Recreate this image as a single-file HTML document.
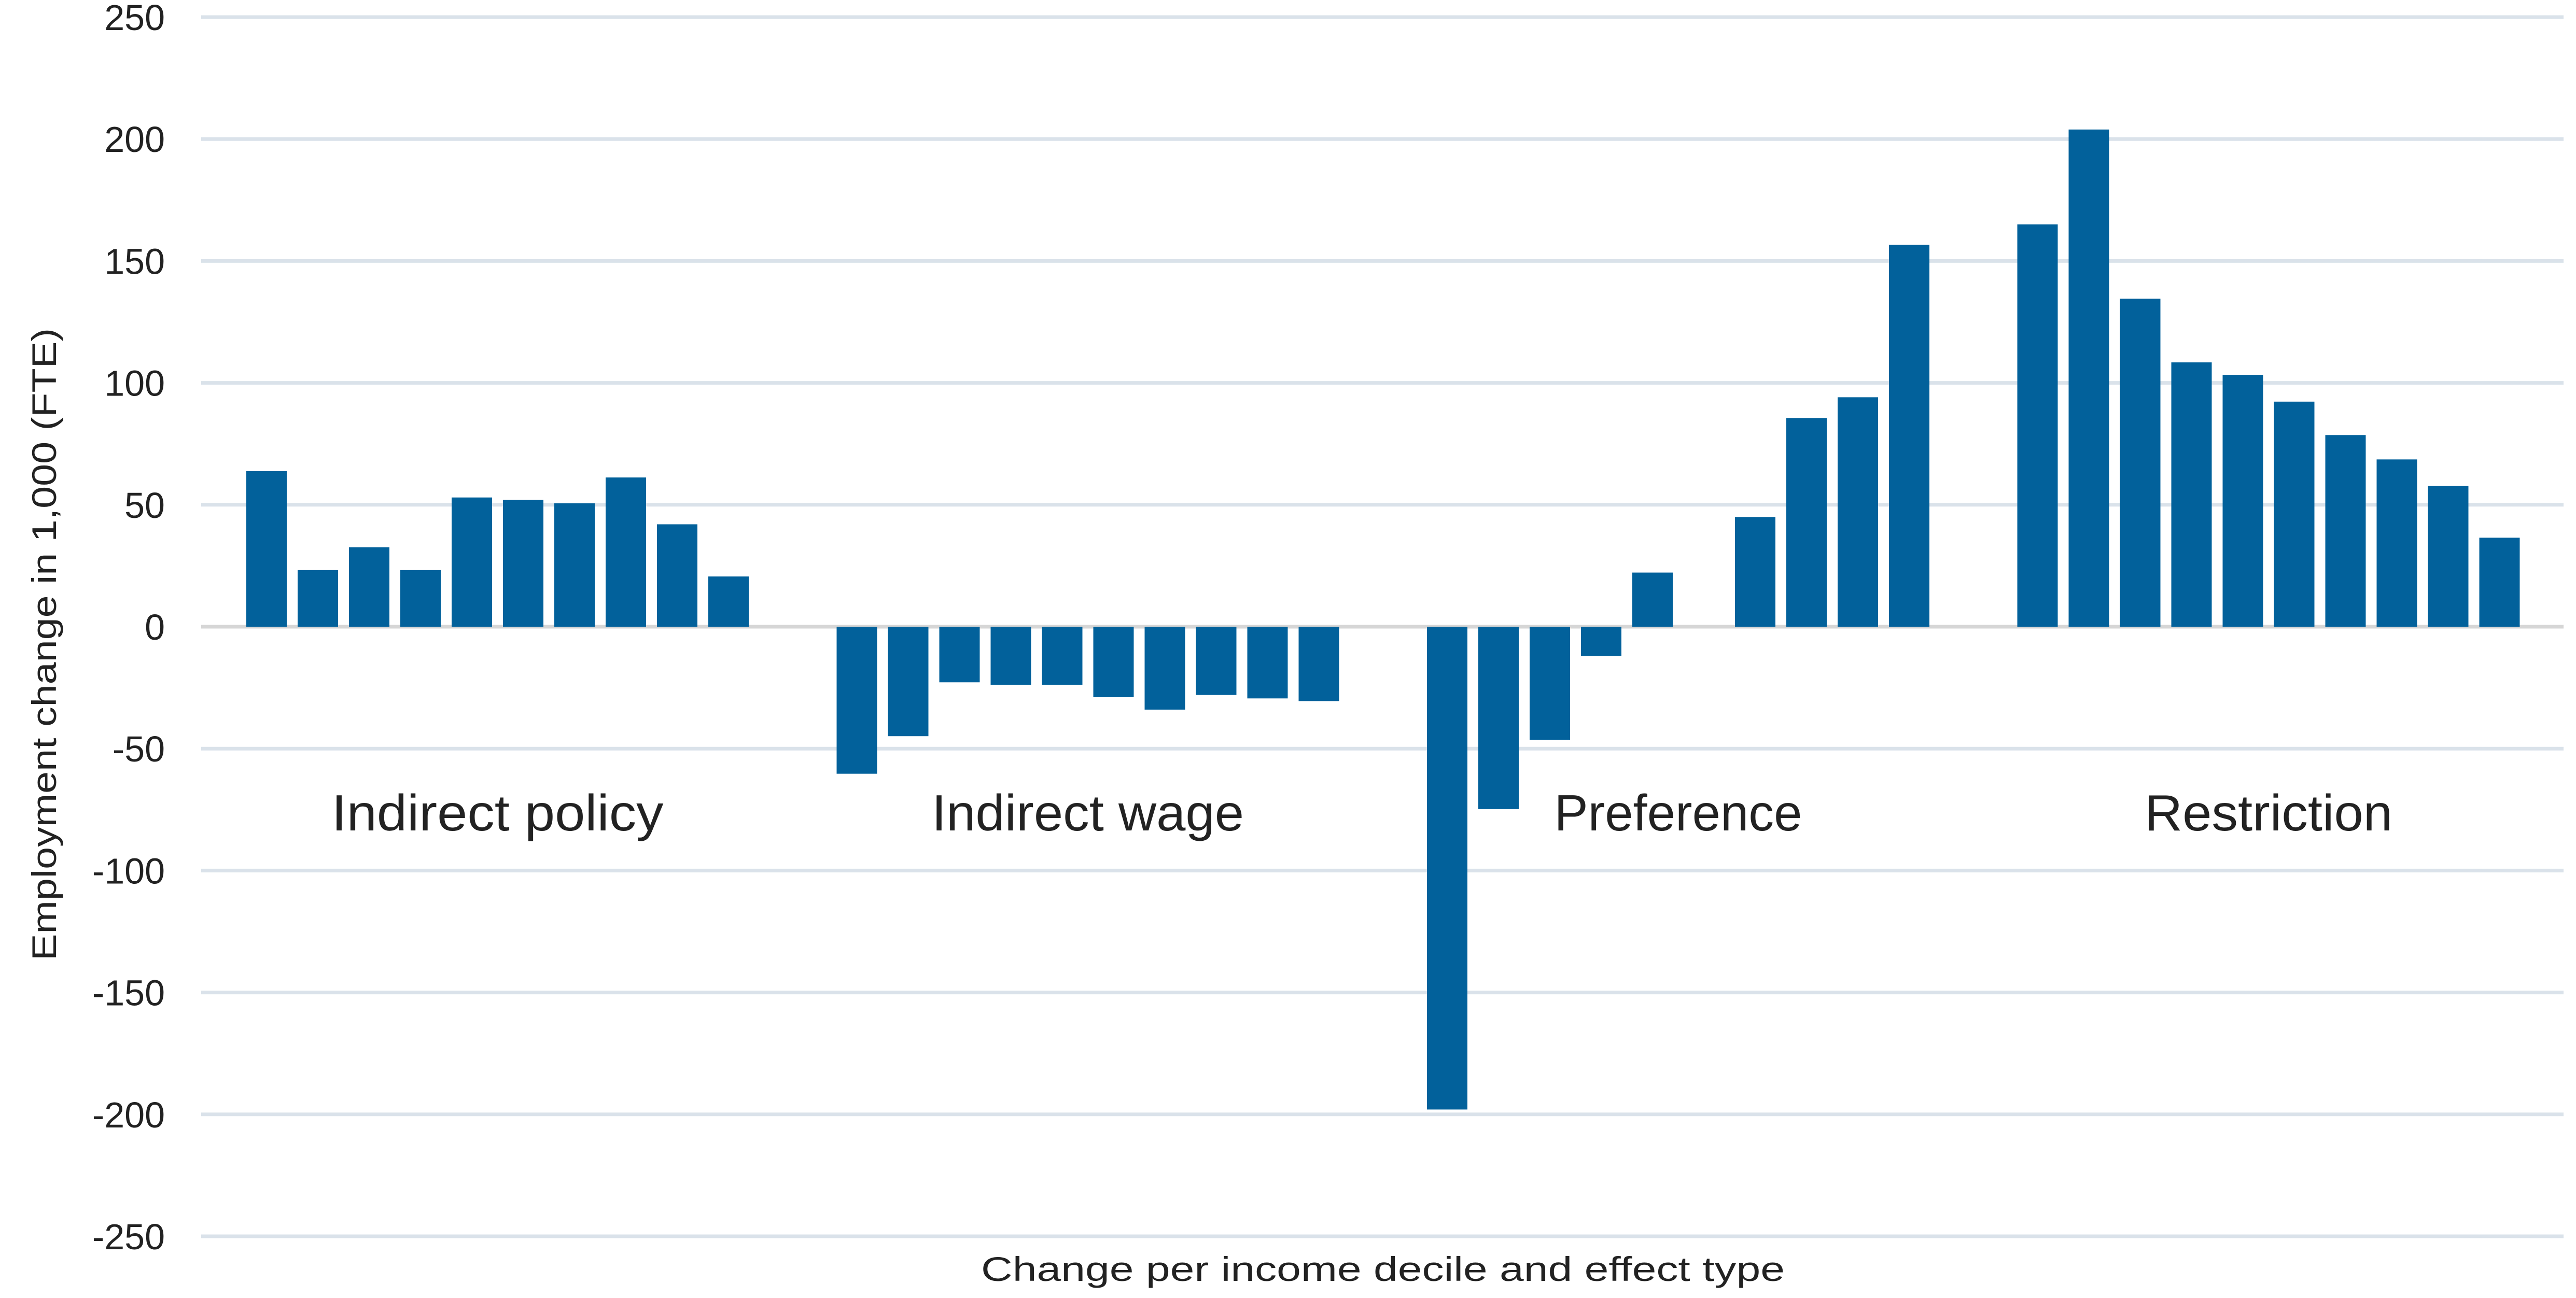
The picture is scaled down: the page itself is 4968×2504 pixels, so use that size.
<!DOCTYPE html>
<html><head><meta charset="utf-8"><style>
html,body{margin:0;padding:0;background:#fff;}
svg{display:block;font-family:"Liberation Sans",sans-serif;}
</style></head><body>
<svg id="chart" width="4968" height="2504" viewBox="0 0 4968 2504" xmlns="http://www.w3.org/2000/svg">
<g id="grid"></g>
<g id="yticks"></g>
<g id="bars"></g>
<g id="glabels"></g>
<text transform="translate(108,1243) rotate(-90)" text-anchor="middle" font-size="66" fill="#222" textLength="1220" lengthAdjust="spacingAndGlyphs">Employment change in 1,000 (FTE)</text>
<text x="2667" y="2471" text-anchor="middle" font-size="66" fill="#222" textLength="1550" lengthAdjust="spacingAndGlyphs">Change per income decile and effect type</text>
</svg>
<script>
const groups = ["Indirect policy","Indirect wage","Preference","Restriction"];
const indirectPolicy = [63.8,23.2,32.6,23.2,53,52,50.6,61.2,42,20.6];
const indirectWage = [-60.3,-44.9,-22.8,-23.8,-23.8,-28.9,-34,-28,-29.4,-30.5];
const preference = [-198,-74.8,-46.4,-12,22.2,0,45,85.6,94.1,156.6];
const restriction = [165,203.9,134.5,108.4,103.3,92.3,78.6,68.6,57.7,36.5];
const yTicks = [250,200,150,100,50,0,-50,-100,-150,-200,-250];
const labelWidths = [640,602,478,478];

const series = [indirectPolicy, indirectWage, preference, restriction];
const NS = "http://www.w3.org/2000/svg";
const y0 = 1209, pxPerUnit = 4.704;
const yScale = v => y0 - v * pxPerUnit;
const x0 = 475, pitch = 99, barW = 78, groupSlots = 11.5;
const xScale = (g, j) => x0 + (g * groupSlots + j) * pitch;
const plotL = 388, plotR = 4944;

const grid = document.getElementById('grid');
const yt = document.getElementById('yticks');
yTicks.forEach(t => {
  const l = document.createElementNS(NS, 'line');
  
  
  l.setAttribute('x1', plotL); l.setAttribute('x2', plotR);
  l.setAttribute('y1', yScale(t)); l.setAttribute('y2', yScale(t));
  l.setAttribute('stroke', t === 0 ? '#d6d6d6' : '#dae2ea');
  l.setAttribute('stroke-width', 7);
  grid.appendChild(l);
  const tx = document.createElementNS(NS, 'text');
  
  
  tx.setAttribute('x', 318); tx.setAttribute('y', yScale(t) + 25);
  tx.setAttribute('text-anchor', 'end');
  tx.setAttribute('font-size', '70');
  tx.setAttribute('fill', '#222');
  tx.textContent = t;
  yt.appendChild(tx);
});

const bars = document.getElementById('bars');
series.forEach((vals, g) => {
  vals.forEach((v, j) => {
    if (v === 0) return;
    const r = document.createElementNS(NS, 'rect');
    
    
    const x = xScale(g, j);
    const yA = yScale(Math.max(v, 0)), yB = yScale(Math.min(v, 0));
    r.setAttribute('x', x); r.setAttribute('width', barW);
    r.setAttribute('y', yA); r.setAttribute('height', Math.max(1, yB - yA));
    r.setAttribute('fill', '#02619b');
    bars.appendChild(r);
  });
});

const gl = document.getElementById('glabels');
groups.forEach((name, g) => {
  const tx = document.createElementNS(NS, 'text');
  
  
  tx.setAttribute('x', xScale(g, 4.5) + barW / 2);
  tx.setAttribute('y', 1602);
  tx.setAttribute('text-anchor', 'middle');
  tx.setAttribute('font-size', '98');
  tx.setAttribute('textLength', labelWidths[g]);
  tx.setAttribute('lengthAdjust', 'spacingAndGlyphs');
  tx.setAttribute('fill', '#222');
  tx.textContent = name;
  gl.appendChild(tx);
});
</script>
</body></html>
